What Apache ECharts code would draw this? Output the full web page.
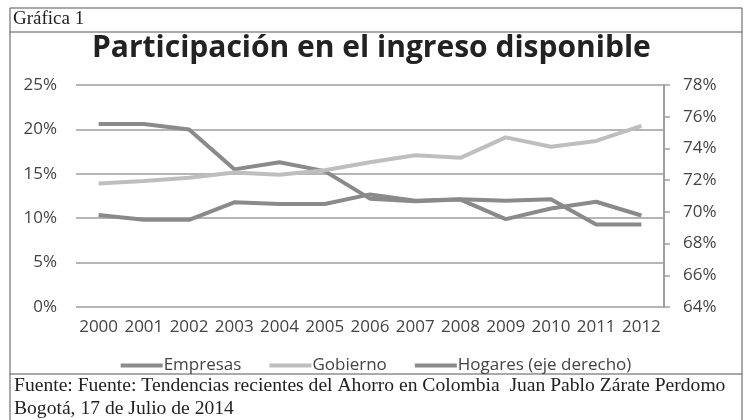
<!DOCTYPE html>
<html><head><meta charset="utf-8">
<script src="https://cdn.jsdelivr.net/npm/echarts@6/dist/echarts.min.js"></script>
<style>html,body{margin:0;padding:0;background:#fff}#c{width:752px;height:420px}</style>
</head><body><div id="c"></div>
<script>
var years = ['2000','2001','2002','2003','2004','2005','2006','2007','2008','2009','2010','2011','2012'];
var empresas = [20.6, 20.6, 20.0, 15.5, 16.3, 15.3, 12.2, 11.9, 12.1, 9.9, 11.1, 11.85, 10.3];
var gobierno = [13.9, 14.2, 14.55, 15.15, 14.9, 15.4, 16.3, 17.1, 16.8, 19.1, 18.05, 18.7, 20.4];
var hogares = [69.8, 69.5, 69.5, 70.6, 70.5, 70.5, 71.1, 70.7, 70.8, 70.7, 70.8, 69.2, 69.2];
var leftTicks = {min: 0, max: 25, interval: 5};
var rightTicks = {min: 64, max: 78, interval: 2};

var chart = echarts.init(document.getElementById('c'), null, {renderer: 'canvas'});
var font = '"Open Sans", sans-serif';
var labelColor = '#444';
var borderColor = '#555';
chart.setOption({
  backgroundColor: '#fff',
  animation: false,
  title: {
    text: 'Participación en el ingreso disponible',
    left: 87, top: 28,
    textStyle: {fontFamily: font, fontWeight: 'bold', fontSize: 30, color: '#222'}
  },
  legend: {
    top: 352, left: 'center',
    itemWidth: 42, itemHeight: 4, itemGap: 28,
    icon: 'rect',
    textStyle: {fontFamily: font, fontSize: 17, color: labelColor, padding: [0, 0, 0, -4]},
    data: ['Empresas', 'Gobierno', 'Hogares (eje derecho)']
  },
  grid: {left: 76, right: 88, top: 85, bottom: 113},
  xAxis: {
    type: 'category', data: years, boundaryGap: true,
    axisLine: {show: false}, axisTick: {show: false},
    axisLabel: {interval: 0, fontFamily: font, fontSize: 17, color: labelColor, margin: 12}
  },
  yAxis: [{
    type: 'value', min: leftTicks.min, max: leftTicks.max, interval: leftTicks.interval,
    axisLine: {show: false}, axisTick: {show: false},
    axisLabel: {formatter: '{value}%', fontFamily: font, fontSize: 17, color: labelColor, margin: 19},
    splitLine: {lineStyle: {color: '#b5b5b5', width: 2}}
  }, {
    type: 'value', position: 'right', min: rightTicks.min, max: rightTicks.max, interval: rightTicks.interval,
    axisLine: {show: true, lineStyle: {color: '#a0a0a0', width: 2}},
    axisTick: {show: true, length: 6, lineStyle: {color: '#a0a0a0', width: 1.5}},
    axisLabel: {formatter: '{value}%', fontFamily: font, fontSize: 17, color: labelColor, margin: 19},
    splitLine: {show: false}
  }],
  series: [{
    name: 'Empresas', type: 'line', data: empresas, yAxisIndex: 0,
    showSymbol: false, symbol: 'none',
    lineStyle: {color: '#8a8a8a', width: 4}, itemStyle: {color: '#8a8a8a'}
  }, {
    name: 'Gobierno', type: 'line', data: gobierno, yAxisIndex: 0,
    showSymbol: false, symbol: 'none',
    lineStyle: {color: '#bebebe', width: 4}, itemStyle: {color: '#bebebe'}
  }, {
    name: 'Hogares (eje derecho)', type: 'line', data: hogares, yAxisIndex: 1,
    showSymbol: false, symbol: 'none',
    lineStyle: {color: '#8a8a8a', width: 4}, itemStyle: {color: '#8a8a8a'}
  }],
  graphic: [
    {type: 'line', shape: {x1: 10, y1: 8, x2: 742, y2: 8}, style: {stroke: borderColor, lineWidth: 1}},
    {type: 'line', shape: {x1: 10, y1: 32, x2: 742, y2: 32}, style: {stroke: borderColor, lineWidth: 1}},
    {type: 'line', shape: {x1: 10, y1: 374, x2: 742, y2: 374}, style: {stroke: borderColor, lineWidth: 1}},
    {type: 'line', shape: {x1: 10, y1: 8, x2: 10, y2: 420}, style: {stroke: borderColor, lineWidth: 1}},
    {type: 'line', shape: {x1: 742, y1: 8, x2: 742, y2: 420}, style: {stroke: borderColor, lineWidth: 1}},
    {type: 'text', left: 13, top: 10, style: {text: 'Gráfica 1', font: '19px "Liberation Serif", serif', fill: '#222'}},
    {type: 'text', left: 14, top: 376, style: {text: 'Fuente: Fuente: Tendencias recientes del Ahorro en Colombia  Juan Pablo Zárate Perdomo', font: '19.6px "Liberation Serif", serif', fill: '#222'}},
    {type: 'text', left: 14, top: 399, style: {text: 'Bogotá, 17 de Julio de 2014', font: '19.6px "Liberation Serif", serif', fill: '#222'}}
  ]
});
</script></body></html>
